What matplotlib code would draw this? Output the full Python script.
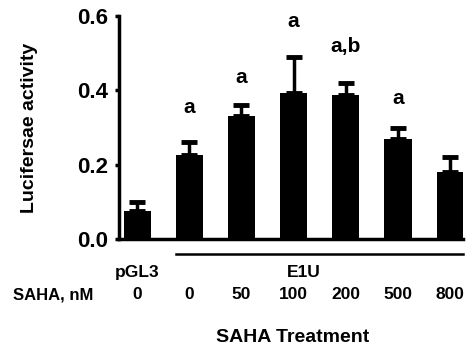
import matplotlib
matplotlib.use("Agg")
import matplotlib.pyplot as plt
from matplotlib.transforms import blended_transform_factory

plt.rcParams['font.family'] = ['Liberation Sans', 'DejaVu Sans']
plt.rcParams['font.weight'] = 'bold'

conc_labels = ["0", "0", "50", "100", "200", "500", "800"]
values = [0.075, 0.226, 0.331, 0.393, 0.387, 0.269, 0.180]
errors = [0.025, 0.035, 0.029, 0.097, 0.033, 0.030, 0.041]
sig_labels = ["", "a", "a", "a", "a,b", "a", ""]
sig_y = [None, 0.355, 0.436, 0.586, 0.519, 0.379, None]
yticks = [0.0, 0.2, 0.4, 0.6]

fig = plt.figure(figsize=(4.66, 3.51), dpi=100)
ax = fig.add_axes([0.255, 0.319, 0.739, 0.635])

x = list(range(len(values)))
ax.bar(x, values, width=0.52, color='black', zorder=2)
ax.errorbar(x, values, yerr=[[0]*len(errors), errors], fmt='none', ecolor='black',
            elinewidth=2.5, capsize=6, capthick=3.5, zorder=1)

for xi, lab, yy in zip(x, sig_labels, sig_y):
    if lab:
        ax.text(xi, yy, lab, ha='center', va='center', fontsize=15, fontweight='bold')

ax.set_xlim(-0.35, 6.25)
ax.set_ylim(0, 0.6)
ax.set_yticks(yticks)
ax.set_yticklabels([f"{v:.1f}" for v in yticks], fontsize=16, fontweight='bold')
ax.set_xticks([])
for s in ['top', 'right']:
    ax.spines[s].set_visible(False)
ax.spines['left'].set_linewidth(2.5)
ax.spines['bottom'].set_linewidth(2.5)
ax.tick_params(axis='y', direction='out', length=3, width=2.5, pad=5)
ax.set_ylabel("Lucifersae activity", fontsize=14, fontweight='bold', labelpad=28)

tr = blended_transform_factory(ax.transData, ax.transAxes)
ax.plot([0.74, 6.25], [-0.067, -0.067], color='black', lw=1.8, transform=tr, clip_on=False)
ax.text(0, -0.152, "pGL3", transform=tr, ha='center', va='center', fontsize=12.5, fontweight='bold')
ax.text(3.2, -0.152, "E1U", transform=tr, ha='center', va='center', fontsize=12.5, fontweight='bold')
for xi, lab in zip(x, conc_labels):
    ax.text(xi, -0.251, lab, transform=tr, ha='center', va='center', fontsize=12.5, fontweight='bold')
fig.text(13/466, 1 - 295/351, "SAHA, nM", ha='left', va='center', fontsize=12, fontweight='bold')
fig.text(293/466, 1 - 337/351, "SAHA Treatment", ha='center', va='center', fontsize=14, fontweight='bold')

fig.savefig("out.png", dpi=100)
